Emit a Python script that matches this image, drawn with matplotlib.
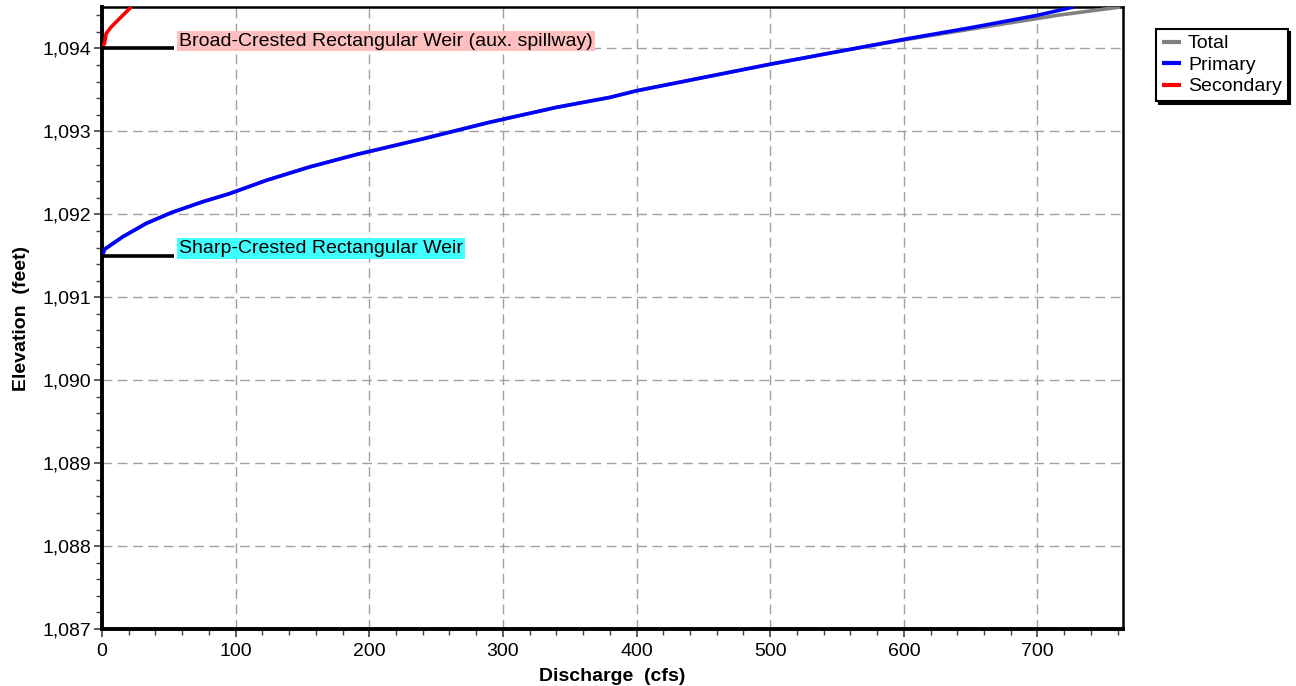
import matplotlib
matplotlib.use("Agg")
import matplotlib.pyplot as plt
from matplotlib.ticker import MultipleLocator, FuncFormatter

plt.rcParams['font.family'] = ['Liberation Sans', 'DejaVu Sans']

# Data
primary_q = [0, 2, 15.6, 33, 51.8, 75, 95.5, 123, 155, 190, 240, 290, 340, 380,
             400, 450, 500, 550, 600, 650, 700, 727]
primary_e = [1091.5, 1091.58, 1091.73, 1091.89, 1092.02, 1092.15, 1092.25, 1092.41,
             1092.57, 1092.72, 1092.91, 1093.11, 1093.29, 1093.41, 1093.49, 1093.65,
             1093.81, 1093.96, 1094.11, 1094.25, 1094.40, 1094.5]

total_q = [0, 2, 15.6, 33, 51.8, 75, 95.5, 123, 155, 190, 240, 290, 340, 380,
           400, 450, 500, 550, 602.5, 656.5, 715, 762]
total_e = primary_e

secondary_q = [0, 0.5, 1.9, 3.1, 6.9, 13.1, 20.6, 22]
secondary_e = [1094.0, 1094.03, 1094.06, 1094.18, 1094.26, 1094.36, 1094.48, 1094.5]

weir_labels = ["Broad-Crested Rectangular Weir (aux. spillway)", "Sharp-Crested Rectangular Weir"]
weir_elev = [1094.0, 1091.5]
weir_colors = ["#ffbfbf", "#40ffff"]

fig = plt.figure(figsize=(12.96, 6.86), dpi=100)
ax = fig.add_axes([0.0787, 0.083, 0.8665 - 0.0787, 0.9898 - 0.083])

ax.set_xlim(0, 764)
ax.set_ylim(1087, 1094.5)

ax.grid(True, which='major', color='#a0a0a0', linestyle=(0, (7, 4)), linewidth=1.0, zorder=0)

ax.plot(total_q, total_e, color='#808080', lw=2.6, label='Total', zorder=3, solid_capstyle='butt')
ax.plot(primary_q, primary_e, color='#0000ff', lw=2.6, label='Primary', zorder=4, solid_capstyle='butt')
ax.plot(secondary_q, secondary_e, color='#ff0000', lw=2.6, label='Secondary', zorder=4, solid_capstyle='butt')

for lab, el, col in zip(weir_labels, weir_elev, weir_colors):
    ax.plot([0, 54], [el, el], color='black', lw=2.6, zorder=5, solid_capstyle='butt', clip_on=False)
    ax.text(57.5, el + 0.09, lab, fontsize=14, va='center', ha='left', zorder=6,
            bbox=dict(boxstyle='square,pad=0.1', fc=col, ec='none'))

ax.xaxis.set_major_locator(MultipleLocator(100))
ax.xaxis.set_minor_locator(MultipleLocator(20))
ax.yaxis.set_major_locator(MultipleLocator(1))
ax.yaxis.set_minor_locator(MultipleLocator(0.2))
ax.yaxis.set_major_formatter(FuncFormatter(lambda v, p: f"{v:,.0f}"))

ax.tick_params(which='major', length=6, width=1.2, labelsize=14, color='#404040', pad=2)
ax.tick_params(axis='x', which='major', pad=4)
ax.tick_params(which='minor', length=4, width=1.0, color='#404040')

for s in ['left', 'bottom']:
    ax.spines[s].set_linewidth(2.8)
for s in ['top', 'right']:
    ax.spines[s].set_linewidth(1.8)
ax.spines['left'].set_zorder(3)

ax.set_xlabel('Discharge  (cfs)', fontsize=14, fontweight='bold', labelpad=6)
ax.set_ylabel('Elevation  (feet)', fontsize=14, fontweight='bold', labelpad=9)

leg = ax.legend(loc='upper left', bbox_to_anchor=(1156 / 1296, 1 - 29 / 686),
                bbox_transform=fig.transFigure, borderaxespad=0, fontsize=14,
                frameon=True, fancybox=False, edgecolor='black', framealpha=1,
                handlelength=1.0, handletextpad=0.35, labelspacing=0.2, borderpad=0.3,
                shadow={'facecolor': 'black', 'edgecolor': 'black', 'alpha': 1})
leg.get_frame().set_linewidth(1.5)
for h in leg.get_lines():
    h.set_linewidth(3)

fig.savefig('out.png', dpi=100)
